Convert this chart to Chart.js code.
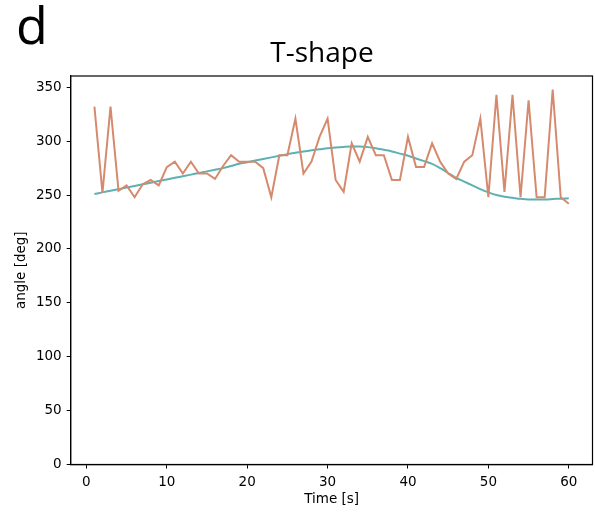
<!DOCTYPE html>
<html>
<head>
<meta charset="utf-8">
<script src="https://cdn.jsdelivr.net/npm/chart.js@4.4.1/dist/chart.umd.min.js"></script>
<style>
  html, body { margin: 0; padding: 0; background: #fff; }
  #wrap { width: 595px; height: 514px; position: relative; }
</style>
</head>
<body>
<div id="wrap"><canvas id="chart"></canvas></div>
<script>
// time axis (seconds)
const timeSec = [1,2,3,4,5,6,7,8,9,10,11,12,13,14,15,16,17,18,19,20,
  21,22,23,24,25,26,27,28,29,30,31,32,33,34,35,36,37,38,39,40,
  41,42,43,44,45,46,47,48,49,50,51,52,53,54,55,56,57,58,59,60];

// measured angle (orange)
const angleMeasured = [332,252,332,254,259,248,260,264,259,276,281,270,281,270,270,265,277,287,281,281,
  281,275,248,287,287,321,270,281,304,321,264,253,298,281,304,287,287,264,264,304,
  276,276,298,281,270,265,281,287,321,248,343,253,343,248,338,248,248,348,248,242];

// smooth fit (teal)
const angleSmooth = [251,252.5,254,255.5,257,258.5,260,261.5,263,264.5,266,267.5,269,270.5,272,273.5,275,277,279,280.5,
  282,283.5,285,286.5,288,289.3,290.5,291.5,292.5,293.5,294.2,294.7,295,295,294.5,293.5,292,290.5,288.5,286.5,
  284,281.5,279,275,270.5,266,262.5,259,255.5,252.5,250,248.5,247.5,246.5,246,246,246,246.3,246.7,247];

const xTicks = [0,10,20,30,40,50,60];
const yTicks = [0,50,100,150,200,250,300,350];

const tickFont = { family: 'DejaVu Sans', size: 13.5 };

// frame, panel letter and title
const decorations = {
  id: 'decorations',
  afterDraw(chart) {
    const { ctx, chartArea: a } = chart;
    ctx.save();
    ctx.strokeStyle = '#000';
    ctx.lineWidth = 1.2;
    ctx.strokeRect(a.left, a.top, a.right - a.left, a.bottom - a.top);
    ctx.fillStyle = '#000';
    ctx.textBaseline = 'alphabetic';
    ctx.font = '52px "Open Sans"';
    ctx.textAlign = 'left';
    ctx.fillText('d', 16, 44);
    ctx.font = '28px "Open Sans"';
    ctx.textAlign = 'center';
    ctx.fillText('T-shape', 322, 62);
    ctx.restore();
  }
};

new Chart(document.getElementById('chart'), {
  type: 'line',
  data: {
    datasets: [
      {
        label: 'measured',
        data: timeSec.map((t, i) => ({ x: t, y: angleMeasured[i] })),
        borderColor: '#d68a6d',
        borderWidth: 2,
        pointRadius: 0,
        tension: 0
      },
      {
        label: 'smooth',
        data: timeSec.map((t, i) => ({ x: t, y: angleSmooth[i] })),
        borderColor: '#5fb0b2',
        borderWidth: 2,
        pointRadius: 0,
        cubicInterpolationMode: 'monotone'
      }
    ]
  },
  options: {
    responsive: true,
    maintainAspectRatio: false,
    animation: false,
    layout: { padding: { top: 76, right: 2.5, left: 13.5, bottom: 6 } },
    plugins: {
      legend: { display: false },
      tooltip: { enabled: false }
    },
    scales: {
      x: {
        type: 'linear',
        min: -1.95,
        max: 62.95,
        afterBuildTicks: s => { s.ticks = xTicks.map(v => ({ value: v })); },
        afterFit: s => { s.height = 43.5; },
        grid: { drawOnChartArea: false, drawTicks: true, tickLength: 4, tickColor: '#000' },
        border: { color: '#000', width: 1.2 },
        ticks: { color: '#000', font: tickFont, padding: 6, maxRotation: 0 },
        title: { display: true, text: 'Time [s]', color: '#000', font: tickFont, padding: { top: 0, bottom: 0 } }
      },
      y: {
        min: 0,
        max: 360.5,
        afterBuildTicks: s => { s.ticks = yTicks.map(v => ({ value: v })); },
        afterFit: s => { s.width = 57.2; },
        grid: { drawOnChartArea: false, drawTicks: true, tickLength: 4, tickColor: '#000' },
        border: { color: '#000', width: 1.2 },
        ticks: { color: '#000', font: tickFont, padding: 5 },
        title: { display: true, text: 'angle [deg]', color: '#000', font: tickFont, padding: { top: 0, bottom: 0 } }
      }
    }
  },
  plugins: [decorations]
});
</script>
</body>
</html>
